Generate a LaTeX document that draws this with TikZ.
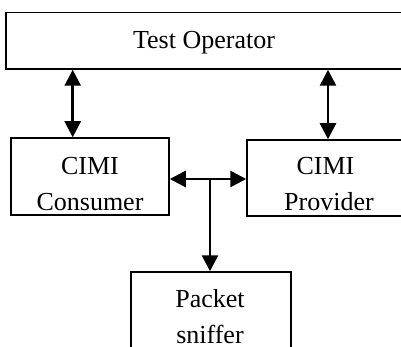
\documentclass[tikz,border=0pt]{standalone}
\usepackage{fontspec}
\setmainfont{Liberation Serif}
\usetikzlibrary{arrows.meta}
\begin{document}
\begin{tikzpicture}[x=1pt,y=-1pt,
  box/.style={draw=black,line width=1.5pt,inner sep=0pt,fill=white},
  txt/.style={inner sep=0pt,anchor=base,align=center,font=\fontsize{26}{37}\selectfont},
  arr/.style={line width=2.6pt,-{Triangle[width=16pt,length=16pt]}},
  darr/.style={line width=2.6pt,{Triangle[width=16pt,length=16pt]}-{Triangle[width=16pt,length=16pt]}}]
\useasboundingbox[fill=white] (0,0) rectangle (401,347);
% boxes
\node[box,minimum width=397pt,minimum height=56.5pt] (op) at (204.5,40.75) {};
\node[box,minimum width=158pt,minimum height=77pt] (cons) at (90,176.5) {};
\node[box,minimum width=158pt,minimum height=76pt] (prov) at (326,178) {};
\node[box,minimum width=160pt,minimum height=100pt] (snif) at (211,322) {};
% texts
\node[txt] (opt) at (204,48.3) {Test Operator};
\node[txt] (cons1) at (90,174.3) {CIMI};
\node[txt] (cons2) at (90,211) {Consumer};
\node[txt] (prov1) at (325.5,174.3) {CIMI};
\node[txt] (prov2) at (329,211) {Provider};
\node[txt] (snif1) at (210,307) {Packet};
\node[txt] (snif2) at (210,343.5) {sniffer};
% connectors
\coordinate (j) at (210,179);
\draw[darr] (op.south -| 72.7,0) -- (cons.north -| 72.7,0);
\draw[darr] (op.south -| 328,0) -- (prov.north -| 328,0);
\draw[darr] (cons.east |- j) -- (prov.west |- j);
\draw[arr] (j) -- (snif.north -| j);
\end{tikzpicture}
\end{document}
